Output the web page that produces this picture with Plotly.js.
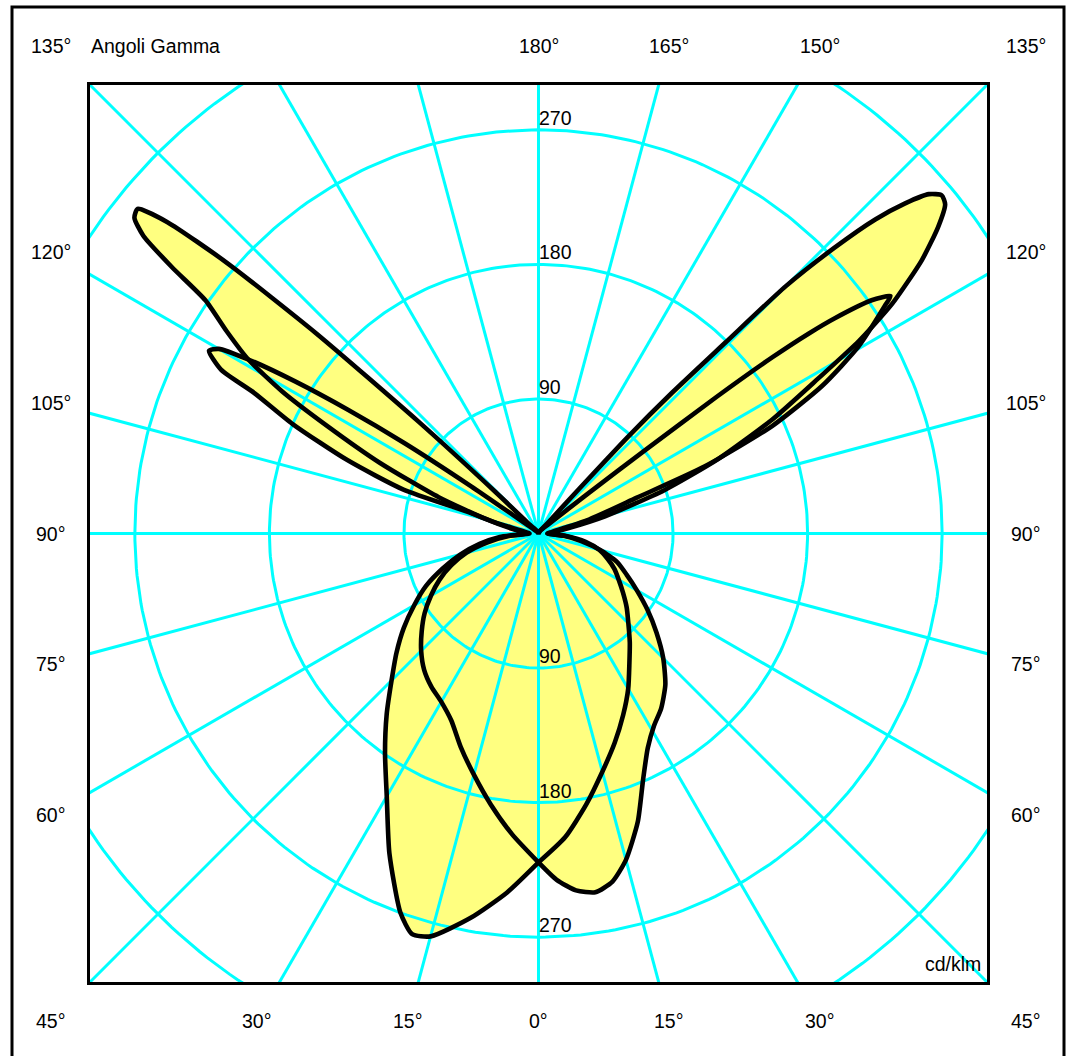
<!DOCTYPE html>
<html>
<head>
<meta charset="utf-8">
<script src="https://cdn.plot.ly/plotly-3.0.1.min.js"></script>
<style>html,body{margin:0;padding:0;background:#fff;}#chart{width:1072px;height:1056px;}</style>
</head>
<body>
<div id="chart"></div>
<script>
// ---------- DATA (gamma angle in degrees, intensity in cd/klm) ----------
// Curve A
const curveA_left_gamma  = [0,5,10,15,17.5,20,25,30,35,40,45,50,55,60,65,70,75,80,85,90,95,100,105,110,114,117,119,121,123,125,126,127,128,129,130,131,132,133,134,136,150,180];
const curveA_left_value  = [220,241,261,279,281,270,236,203,179,158,139,124,110,96,83,68,54,40,26,8,10,18,35,71,116,159,196,227,249,272,303,331,343,345,324,275,200,110,40,8,2,0];
const curveA_right_gamma = [0,5,10,15,20,25,30,35,40,45,50,55,60,65,70,75,80,85,90,95,100,104.5,109,112.5,116,119,121,123,125.5,127.5,129,130,131,132,133,134,135,135.6,136.5,137.2,137.7,139,150,180];
const curveA_right_value = [220,204,184,165,149,134,120,106,95,85,77,69,62,56,49,42,32,18,6,10,20,46,89,130,174,214,250,282,315,337,350,352,346,330,308,275,234,179,130,89,40,10,2,0];
// Curve B
const curveB_left_gamma  = [0,5,10,15,20,25,30,35,40,45,50,55,60,65,70,75,80,85,90,95,100,104,107,108,111,114,116.3,117.3,119,120,121,122,123,124,125,126,130,150,180];
const curveB_left_value  = [220,202,184,167,152,138,130,125,119,111,102,93,83,73,62,50,35,20,6,8,12,28,50,95,137,180,212,239,252,247,225,192,152,108,55,20,5,1,0];
const curveB_right_gamma = [0,3,6,9,12,15,19,23,27,31,35,40,45,50,55,60,65,70,75,80,85,90,95,100,105.5,110,112,114.7,117.5,120.3,123.3,124,125,126,126.5,127,127.5,128,129,132,150,180];
const curveB_right_value = [220,232,240,243,238,226,204,179,161,150,143,132,118,103,89,76,65,56,43,29,17,6,8,12,35,70,120,172,214,248,277,284,272,245,225,196,150,90,40,10,2,0];

// Grid and tick labels
const gridCircles = [90,180,270,360];
const radialLabels = [90,180,270];
const spokeAngles = [0,15,30,45,60,75,90,105,120,135,150,165,180,195,210,225,240,255,270,285,300,315,330,345];
const angleTicksLeft  = [15,30,45,60,75,90,105,120,135];
const angleTicksRight = [15,30,45,60,75,90,105,120,135,150,165];
const angleTicksAxis  = [0,180];
const titleText = 'Angoli Gamma';
const unitText = 'cd/klm';

// ---------- helpers ----------
const D = Math.PI/180;
function halfXY(gam, val, side){
  const xs=[], ys=[];
  for(let i=0;i<gam.length;i++){
    xs.push(side*val[i]*Math.sin(gam[i]*D));
    ys.push(-val[i]*Math.cos(gam[i]*D));
  }
  return [xs,ys];
}
function curveXY(lg, lv, rg, rv){
  const [lx,ly]=halfXY(lg,lv,-1);
  const [rx,ry]=halfXY(rg,rv,1);
  const x=lx.concat(rx.slice().reverse()); const y=ly.concat(ry.slice().reverse());
  x.push(x[0]); y.push(y[0]);
  return [x,y];
}
const [ax,ay]=curveXY(curveA_left_gamma,curveA_left_value,curveA_right_gamma,curveA_right_value);
const [bx,by]=curveXY(curveB_left_gamma,curveB_left_value,curveB_right_gamma,curveB_right_value);

// grid traces
const cx=[], cy=[];
gridCircles.forEach(r=>{
  for(let a=0;a<=360;a+=1){cx.push(r*Math.cos(a*D)); cy.push(r*Math.sin(a*D));}
  cx.push(null); cy.push(null);
});
const sx=[], sy=[];
spokeAngles.forEach(a=>{
  sx.push(0, 600*Math.sin(a*D), null); sy.push(0, -600*Math.cos(a*D), null);
});

const FILL='#ffff80', CYAN='#00ffff';
const SHAPE={shape:'spline',smoothing:0.6};
const traces=[
  {x:ax,y:ay,mode:'lines',fill:'toself',fillcolor:FILL,line:Object.assign({width:0},SHAPE),hoverinfo:'skip',showlegend:false},
  {x:bx,y:by,mode:'lines',fill:'toself',fillcolor:FILL,line:Object.assign({width:0},SHAPE),hoverinfo:'skip',showlegend:false},
  {x:cx,y:cy,mode:'lines',line:{color:CYAN,width:3},hoverinfo:'skip',showlegend:false,connectgaps:false},
  {x:sx,y:sy,mode:'lines',line:{color:CYAN,width:3},hoverinfo:'skip',showlegend:false,connectgaps:false},
  {x:ax,y:ay,mode:'lines',line:Object.assign({color:'#000',width:4.6},SHAPE),hoverinfo:'skip',showlegend:false},
  {x:bx,y:by,mode:'lines',line:Object.assign({color:'#000',width:4.6},SHAPE),hoverinfo:'skip',showlegend:false}
];

// annotations (placed in paper space: the data box spans -300..300 on both axes)
const FONT={family:'"Liberation Sans", Arial, Helvetica, sans-serif',size:19.5,color:'#000'};
const px=v=>(v+300)/600;
const ann=[];
const LR=326;
function angleLabel(g, side){
  const dx=side*Math.sin(g*D), dy=-Math.cos(g*D);
  const k=LR/Math.max(Math.abs(dx),Math.abs(dy));
  ann.push({x:px(dx*k),y:px(dy*k),xref:'paper',yref:'paper',text:g+'°',showarrow:false,font:FONT,xanchor:'center',yanchor:'middle'});
}
angleTicksLeft.forEach(g=>angleLabel(g,-1));
angleTicksRight.forEach(g=>angleLabel(g,1));
angleTicksAxis.forEach(g=>angleLabel(g,1));
radialLabels.forEach(v=>{
  ann.push({x:0,y:v,xref:'x',yref:'y',text:String(v),showarrow:false,font:FONT,xanchor:'left',yanchor:'bottom',xshift:-2,yshift:-1});
  ann.push({x:0,y:-v,xref:'x',yref:'y',text:String(v),showarrow:false,font:FONT,xanchor:'left',yanchor:'bottom',xshift:-2,yshift:-1});
});
ann.push({x:0,y:px(LR),xref:'paper',yref:'paper',text:titleText,showarrow:false,font:FONT,xanchor:'left',yanchor:'middle',xshift:-1});
ann.push({x:300,y:-300,xref:'x',yref:'y',text:unitText,showarrow:false,font:FONT,xanchor:'right',yanchor:'bottom',xshift:-4,yshift:5});

const axisCommon={range:[-300,300],showgrid:false,zeroline:false,showticklabels:false,ticks:'',showline:true,mirror:true,linecolor:'#000',linewidth:3,fixedrange:true};
const layout={
  width:1072,height:1056,
  margin:{l:90,r:85,t:85,b:74,pad:0},
  paper_bgcolor:'#fff',plot_bgcolor:'#fff',
  xaxis:Object.assign({},axisCommon),
  yaxis:Object.assign({},axisCommon),
  showlegend:false,
  annotations:ann,
  shapes:[{type:'rect',xref:'paper',yref:'paper',x0:(12-90)/897,x1:(1064-90)/897,y0:(982-1062)/897,y1:(982-7)/897,line:{color:'#000',width:3},fillcolor:'rgba(0,0,0,0)',layer:'above'}]
};
Plotly.newPlot('chart',traces,layout,{displayModeBar:false,staticPlot:true});
</script>
</body>
</html>
